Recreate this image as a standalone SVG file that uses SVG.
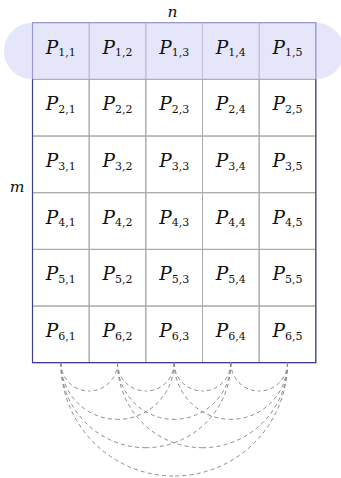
<svg xmlns="http://www.w3.org/2000/svg" width="341" height="478" viewBox="0 0 341 478">
<style>
.cell{fill:none;stroke:#ababab;stroke-width:1}
.hl{fill:none;stroke:#bcbcd8;stroke-width:1}
.t{font-family:"DejaVu Serif","Liberation Serif",serif;fill:#111;text-anchor:middle}
.P{font-style:italic;font-size:18.5px}
.s{font-size:11px}
.lbl{font-family:"DejaVu Serif","Liberation Serif",serif;font-style:italic;font-size:15.5px;fill:#111;text-anchor:middle}
.arc{fill:none;stroke:#8c8c8c;stroke-width:1;stroke-dasharray:4 3.2}
</style>
<rect id="highlight" x="4" y="22.7" width="340" height="56.67" rx="28.33" ry="28.33" fill="#e6e6fa"/>
<g id="cells">
<g id="c11"><rect class="hl" x="32.5" y="22.7" width="56.67" height="56.67"/><text class="t" x="60.83" y="53.7"><tspan class="P">P</tspan><tspan class="s" dy="2.5">1,1</tspan></text></g>
<g id="c12"><rect class="hl" x="89.17" y="22.7" width="56.67" height="56.67"/><text class="t" x="117.5" y="53.7"><tspan class="P">P</tspan><tspan class="s" dy="2.5">1,2</tspan></text></g>
<g id="c13"><rect class="hl" x="145.83" y="22.7" width="56.67" height="56.67"/><text class="t" x="174.17" y="53.7"><tspan class="P">P</tspan><tspan class="s" dy="2.5">1,3</tspan></text></g>
<g id="c14"><rect class="hl" x="202.5" y="22.7" width="56.67" height="56.67"/><text class="t" x="230.83" y="53.7"><tspan class="P">P</tspan><tspan class="s" dy="2.5">1,4</tspan></text></g>
<g id="c15"><rect class="hl" x="259.17" y="22.7" width="56.67" height="56.67"/><text class="t" x="287.5" y="53.7"><tspan class="P">P</tspan><tspan class="s" dy="2.5">1,5</tspan></text></g>

<g id="c21"><rect class="cell" x="32.5" y="79.37" width="56.67" height="56.67"/><text class="t" x="60.83" y="110.37"><tspan class="P">P</tspan><tspan class="s" dy="2.5">2,1</tspan></text></g>
<g id="c22"><rect class="cell" x="89.17" y="79.37" width="56.67" height="56.67"/><text class="t" x="117.5" y="110.37"><tspan class="P">P</tspan><tspan class="s" dy="2.5">2,2</tspan></text></g>
<g id="c23"><rect class="cell" x="145.83" y="79.37" width="56.67" height="56.67"/><text class="t" x="174.17" y="110.37"><tspan class="P">P</tspan><tspan class="s" dy="2.5">2,3</tspan></text></g>
<g id="c24"><rect class="cell" x="202.5" y="79.37" width="56.67" height="56.67"/><text class="t" x="230.83" y="110.37"><tspan class="P">P</tspan><tspan class="s" dy="2.5">2,4</tspan></text></g>
<g id="c25"><rect class="cell" x="259.17" y="79.37" width="56.67" height="56.67"/><text class="t" x="287.5" y="110.37"><tspan class="P">P</tspan><tspan class="s" dy="2.5">2,5</tspan></text></g>

<g id="c31"><rect class="cell" x="32.5" y="136.03" width="56.67" height="56.67"/><text class="t" x="60.83" y="167.03"><tspan class="P">P</tspan><tspan class="s" dy="2.5">3,1</tspan></text></g>
<g id="c32"><rect class="cell" x="89.17" y="136.03" width="56.67" height="56.67"/><text class="t" x="117.5" y="167.03"><tspan class="P">P</tspan><tspan class="s" dy="2.5">3,2</tspan></text></g>
<g id="c33"><rect class="cell" x="145.83" y="136.03" width="56.67" height="56.67"/><text class="t" x="174.17" y="167.03"><tspan class="P">P</tspan><tspan class="s" dy="2.5">3,3</tspan></text></g>
<g id="c34"><rect class="cell" x="202.5" y="136.03" width="56.67" height="56.67"/><text class="t" x="230.83" y="167.03"><tspan class="P">P</tspan><tspan class="s" dy="2.5">3,4</tspan></text></g>
<g id="c35"><rect class="cell" x="259.17" y="136.03" width="56.67" height="56.67"/><text class="t" x="287.5" y="167.03"><tspan class="P">P</tspan><tspan class="s" dy="2.5">3,5</tspan></text></g>

<g id="c41"><rect class="cell" x="32.5" y="192.7" width="56.67" height="56.67"/><text class="t" x="60.83" y="223.7"><tspan class="P">P</tspan><tspan class="s" dy="2.5">4,1</tspan></text></g>
<g id="c42"><rect class="cell" x="89.17" y="192.7" width="56.67" height="56.67"/><text class="t" x="117.5" y="223.7"><tspan class="P">P</tspan><tspan class="s" dy="2.5">4,2</tspan></text></g>
<g id="c43"><rect class="cell" x="145.83" y="192.7" width="56.67" height="56.67"/><text class="t" x="174.17" y="223.7"><tspan class="P">P</tspan><tspan class="s" dy="2.5">4,3</tspan></text></g>
<g id="c44"><rect class="cell" x="202.5" y="192.7" width="56.67" height="56.67"/><text class="t" x="230.83" y="223.7"><tspan class="P">P</tspan><tspan class="s" dy="2.5">4,4</tspan></text></g>
<g id="c45"><rect class="cell" x="259.17" y="192.7" width="56.67" height="56.67"/><text class="t" x="287.5" y="223.7"><tspan class="P">P</tspan><tspan class="s" dy="2.5">4,5</tspan></text></g>

<g id="c51"><rect class="cell" x="32.5" y="249.37" width="56.67" height="56.67"/><text class="t" x="60.83" y="280.37"><tspan class="P">P</tspan><tspan class="s" dy="2.5">5,1</tspan></text></g>
<g id="c52"><rect class="cell" x="89.17" y="249.37" width="56.67" height="56.67"/><text class="t" x="117.5" y="280.37"><tspan class="P">P</tspan><tspan class="s" dy="2.5">5,2</tspan></text></g>
<g id="c53"><rect class="cell" x="145.83" y="249.37" width="56.67" height="56.67"/><text class="t" x="174.17" y="280.37"><tspan class="P">P</tspan><tspan class="s" dy="2.5">5,3</tspan></text></g>
<g id="c54"><rect class="cell" x="202.5" y="249.37" width="56.67" height="56.67"/><text class="t" x="230.83" y="280.37"><tspan class="P">P</tspan><tspan class="s" dy="2.5">5,4</tspan></text></g>
<g id="c55"><rect class="cell" x="259.17" y="249.37" width="56.67" height="56.67"/><text class="t" x="287.5" y="280.37"><tspan class="P">P</tspan><tspan class="s" dy="2.5">5,5</tspan></text></g>

<g id="c61"><rect class="cell" x="32.5" y="306.03" width="56.67" height="56.67"/><text class="t" x="60.83" y="337.03"><tspan class="P">P</tspan><tspan class="s" dy="2.5">6,1</tspan></text></g>
<g id="c62"><rect class="cell" x="89.17" y="306.03" width="56.67" height="56.67"/><text class="t" x="117.5" y="337.03"><tspan class="P">P</tspan><tspan class="s" dy="2.5">6,2</tspan></text></g>
<g id="c63"><rect class="cell" x="145.83" y="306.03" width="56.67" height="56.67"/><text class="t" x="174.17" y="337.03"><tspan class="P">P</tspan><tspan class="s" dy="2.5">6,3</tspan></text></g>
<g id="c64"><rect class="cell" x="202.5" y="306.03" width="56.67" height="56.67"/><text class="t" x="230.83" y="337.03"><tspan class="P">P</tspan><tspan class="s" dy="2.5">6,4</tspan></text></g>
<g id="c65"><rect class="cell" x="259.17" y="306.03" width="56.67" height="56.67"/><text class="t" x="287.5" y="337.03"><tspan class="P">P</tspan><tspan class="s" dy="2.5">6,5</tspan></text></g>
</g>
<g id="border" fill="none" stroke-width="1.2">
<path d="M32.5 79.37 V22.7 H315.83 V79.37" stroke="#9a9ad0"/>
<path d="M32.5 79.37 V362.7 H315.83 V79.37" stroke="#3c3c8c"/>
</g>
<g id="labels">
<text class="lbl" x="172.5" y="16.5">n</text>
<text class="lbl" x="17" y="191.5">m</text>
</g>
<g id="connectors">
<path class="arc" d="M60.83 362.7 A28.33 28.33 0 0 0 89.17 391.03 M117.5 362.7 A28.33 28.33 0 0 1 89.17 391.03"/>
<path class="arc" d="M117.5 362.7 A28.33 28.33 0 0 0 145.83 391.03 M174.17 362.7 A28.33 28.33 0 0 1 145.83 391.03"/>
<path class="arc" d="M174.17 362.7 A28.33 28.33 0 0 0 202.5 391.03 M230.83 362.7 A28.33 28.33 0 0 1 202.5 391.03"/>
<path class="arc" d="M230.83 362.7 A28.33 28.33 0 0 0 259.17 391.03 M287.5 362.7 A28.33 28.33 0 0 1 259.17 391.03"/>
<path class="arc" d="M60.83 362.7 A56.67 56.67 0 0 0 117.5 419.37 M174.17 362.7 A56.67 56.67 0 0 1 117.5 419.37"/>
<path class="arc" d="M117.5 362.7 A56.67 56.67 0 0 0 174.17 419.37 M230.83 362.7 A56.67 56.67 0 0 1 174.17 419.37"/>
<path class="arc" d="M174.17 362.7 A56.67 56.67 0 0 0 230.83 419.37 M287.5 362.7 A56.67 56.67 0 0 1 230.83 419.37"/>
<path class="arc" d="M60.83 362.7 A85 85 0 0 0 145.83 447.7 M230.83 362.7 A85 85 0 0 1 145.83 447.7"/>
<path class="arc" d="M117.5 362.7 A85 85 0 0 0 202.5 447.7 M287.5 362.7 A85 85 0 0 1 202.5 447.7"/>
<path class="arc" d="M60.83 362.7 A113.33 113.33 0 0 0 174.17 476.03 M287.5 362.7 A113.33 113.33 0 0 1 174.17 476.03"/>
</g>
</svg>
